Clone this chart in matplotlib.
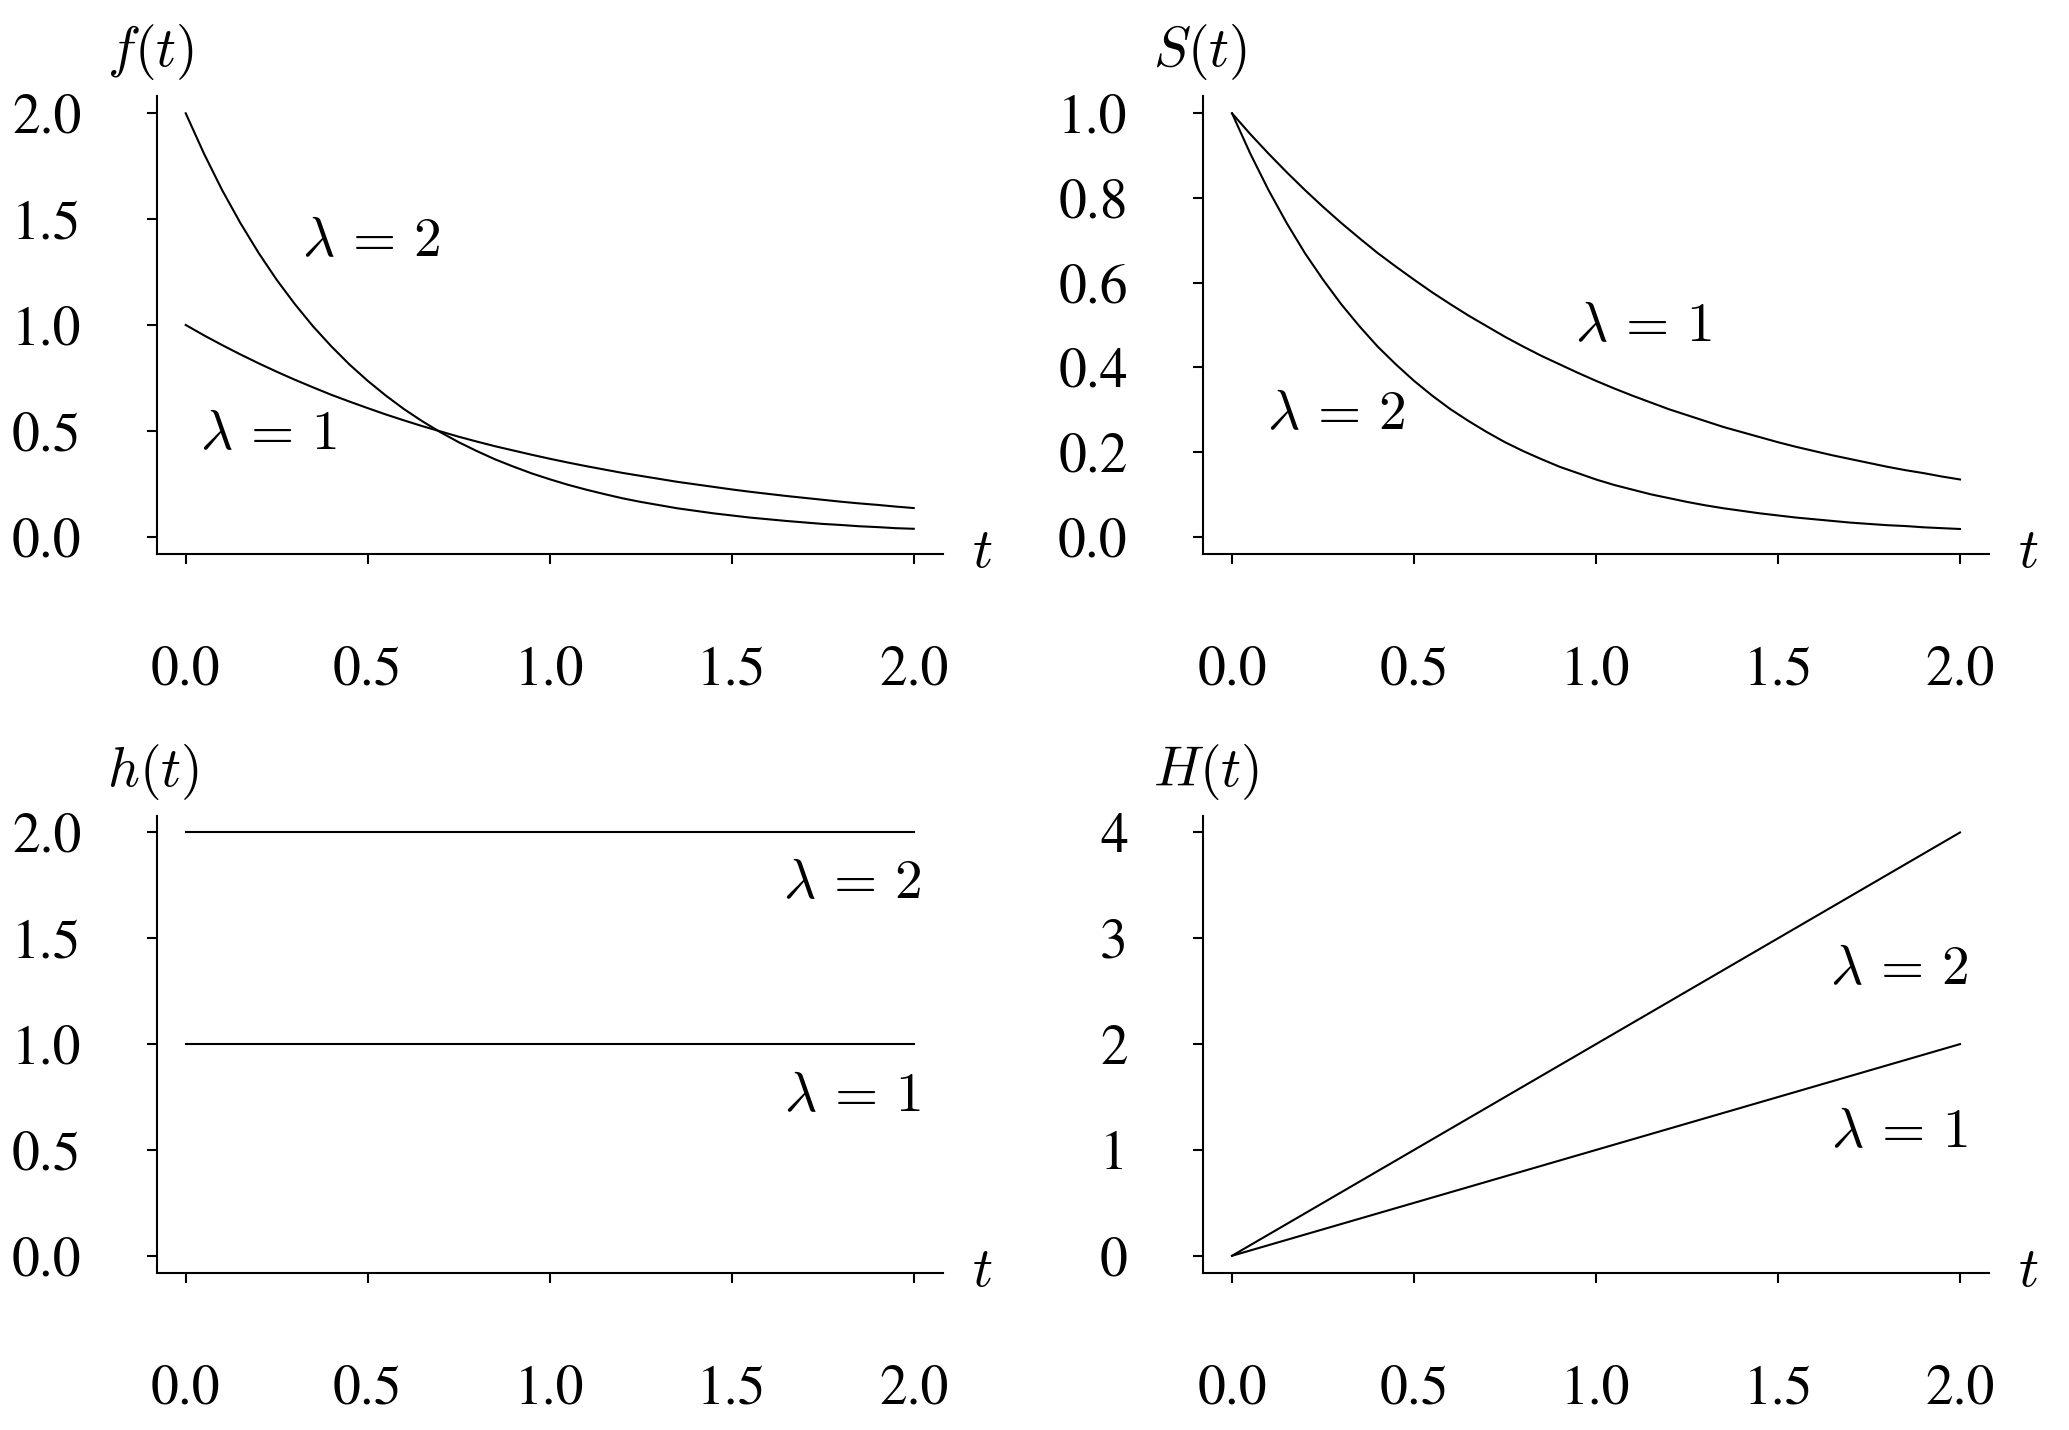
import matplotlib
matplotlib.use("Agg")
import matplotlib.pyplot as plt

# ---- data ----
t = [0.00, 0.05, 0.10, 0.15, 0.20, 0.25, 0.30, 0.35, 0.40, 0.45,
     0.50, 0.55, 0.60, 0.65, 0.70, 0.75, 0.80, 0.85, 0.90, 0.95,
     1.00, 1.05, 1.10, 1.15, 1.20, 1.25, 1.30, 1.35, 1.40, 1.45,
     1.50, 1.55, 1.60, 1.65, 1.70, 1.75, 1.80, 1.85, 1.90, 1.95, 2.00]

# density, lambda = 1
f1 = [1.000, 0.951, 0.905, 0.861, 0.819, 0.779, 0.741, 0.705, 0.670, 0.638,
      0.607, 0.577, 0.549, 0.522, 0.497, 0.472, 0.449, 0.427, 0.407, 0.387,
      0.368, 0.350, 0.333, 0.317, 0.301, 0.287, 0.273, 0.259, 0.247, 0.235,
      0.223, 0.212, 0.202, 0.192, 0.183, 0.174, 0.165, 0.157, 0.150, 0.142, 0.135]
# density, lambda = 2
f2 = [2.000, 1.810, 1.637, 1.482, 1.341, 1.213, 1.098, 0.993, 0.899, 0.813,
      0.736, 0.666, 0.602, 0.545, 0.493, 0.446, 0.404, 0.365, 0.331, 0.299,
      0.271, 0.245, 0.222, 0.201, 0.181, 0.164, 0.149, 0.134, 0.122, 0.110,
      0.100, 0.090, 0.082, 0.074, 0.067, 0.060, 0.055, 0.049, 0.045, 0.040, 0.037]
# survival, lambda = 1
S1 = [1.000, 0.951, 0.905, 0.861, 0.819, 0.779, 0.741, 0.705, 0.670, 0.638,
      0.607, 0.577, 0.549, 0.522, 0.497, 0.472, 0.449, 0.427, 0.407, 0.387,
      0.368, 0.350, 0.333, 0.317, 0.301, 0.287, 0.273, 0.259, 0.247, 0.235,
      0.223, 0.212, 0.202, 0.192, 0.183, 0.174, 0.165, 0.157, 0.150, 0.142, 0.135]
# survival, lambda = 2
S2 = [1.000, 0.905, 0.819, 0.741, 0.670, 0.607, 0.549, 0.497, 0.449, 0.407,
      0.368, 0.333, 0.301, 0.273, 0.247, 0.223, 0.202, 0.183, 0.165, 0.150,
      0.135, 0.122, 0.111, 0.100, 0.091, 0.082, 0.074, 0.067, 0.061, 0.055,
      0.050, 0.045, 0.041, 0.037, 0.033, 0.030, 0.027, 0.025, 0.022, 0.020, 0.018]

t_line = [0.0, 2.0]
h1 = [1.0, 1.0]
h2 = [2.0, 2.0]
H1 = [0.0, 2.0]
H2 = [0.0, 4.0]

xticks = [0.0, 0.5, 1.0, 1.5, 2.0]
xticklabels = ["0.0", "0.5", "1.0", "1.5", "2.0"]
f_yticks = [0.0, 0.5, 1.0, 1.5, 2.0]
f_yticklabels = ["0.0", "0.5", "1.0", "1.5", "2.0"]
S_yticks = [0.0, 0.2, 0.4, 0.6, 0.8, 1.0]
S_yticklabels = ["0.0", "0.2", "0.4", "0.6", "0.8", "1.0"]
H_yticks = [0, 1, 2, 3, 4]
H_yticklabels = ["0", "1", "2", "3", "4"]

# ---- style ----
plt.rcParams["font.family"] = ["STIXGeneral", "DejaVu Serif"]
plt.rcParams["mathtext.fontset"] = "cm"

FS = 40
LW = 1.5

fig = plt.figure(figsize=(20.69, 14.30), dpi=100)

W, Hh = 0.380, 0.3197
pos = {
    "f": [0.0757, 0.6129, W, Hh],
    "S": [0.5814, 0.6129, W, Hh],
    "h": [0.0757, 0.1100, W, Hh],
    "H": [0.5814, 0.1100, W, Hh],
}


def setup(ax, ylo, yhi, yticks, yticklabels, ylabel):
    pad_x = 0.04 * 2.0
    pad_y = 0.04 * (yhi - ylo)
    ax.set_xlim(-pad_x, 2.0 + pad_x)
    ax.set_ylim(ylo - pad_y, yhi + pad_y)
    for s in ("top", "right"):
        ax.spines[s].set_visible(False)
    for s in ("left", "bottom"):
        ax.spines[s].set_linewidth(LW)
    ax.set_xticks(xticks)
    ax.set_xticklabels(xticklabels)
    ax.set_yticks(yticks)
    ax.set_yticklabels(yticklabels)
    ax.tick_params(axis="both", direction="out", length=7.2, width=LW,
                   labelsize=FS)
    ax.tick_params(axis="x", pad=59)
    ax.tick_params(axis="y", pad=47)
    ax.text(1.05, 0.0, r"$t$", transform=ax.transAxes, ha="center",
            va="center", fontsize=FS)
    ax.text(-0.063, 1.096, ylabel, transform=ax.transAxes, ha="left",
            va="center", fontsize=FS)


L1 = r"$\lambda\,=\,1$"
L2 = r"$\lambda\,=\,2$"

# f(t)
ax = fig.add_axes(pos["f"])
ax.plot(t, f1, color="black", lw=LW)
ax.plot(t, f2, color="black", lw=LW)
setup(ax, 0.0, 2.0, f_yticks, f_yticklabels, r"$f(t)$")
ax.text(0.51, 1.386, L2, ha="center", va="center", fontsize=FS)
ax.text(0.226, 0.476, L1, ha="center", va="center", fontsize=FS)

# S(t)
ax = fig.add_axes(pos["S"])
ax.plot(t, S1, color="black", lw=LW)
ax.plot(t, S2, color="black", lw=LW)
setup(ax, 0.0, 1.0, S_yticks, S_yticklabels, r"$S(t)$")
ax.text(1.13, 0.493, L1, ha="center", va="center", fontsize=FS)
ax.text(0.286, 0.286, L2, ha="center", va="center", fontsize=FS)

# h(t)
ax = fig.add_axes(pos["h"])
ax.plot(t_line, h1, color="black", lw=LW)
ax.plot(t_line, h2, color="black", lw=LW)
setup(ax, 0.0, 2.0, f_yticks, f_yticklabels, r"$h(t)$")
ax.text(1.83, 1.752, L2, ha="center", va="center", fontsize=FS)
ax.text(1.83, 0.748, L1, ha="center", va="center", fontsize=FS)

# H(t)
ax = fig.add_axes(pos["H"])
ax.plot(t_line, H1, color="black", lw=LW)
ax.plot(t_line, H2, color="black", lw=LW)
setup(ax, 0.0, 4.0, H_yticks, H_yticklabels, r"$H(t)$")
ax.text(1.833, 2.693, L2, ha="center", va="center", fontsize=FS)
ax.text(1.833, 1.149, L1, ha="center", va="center", fontsize=FS)

fig.savefig("out.png", dpi=100)
